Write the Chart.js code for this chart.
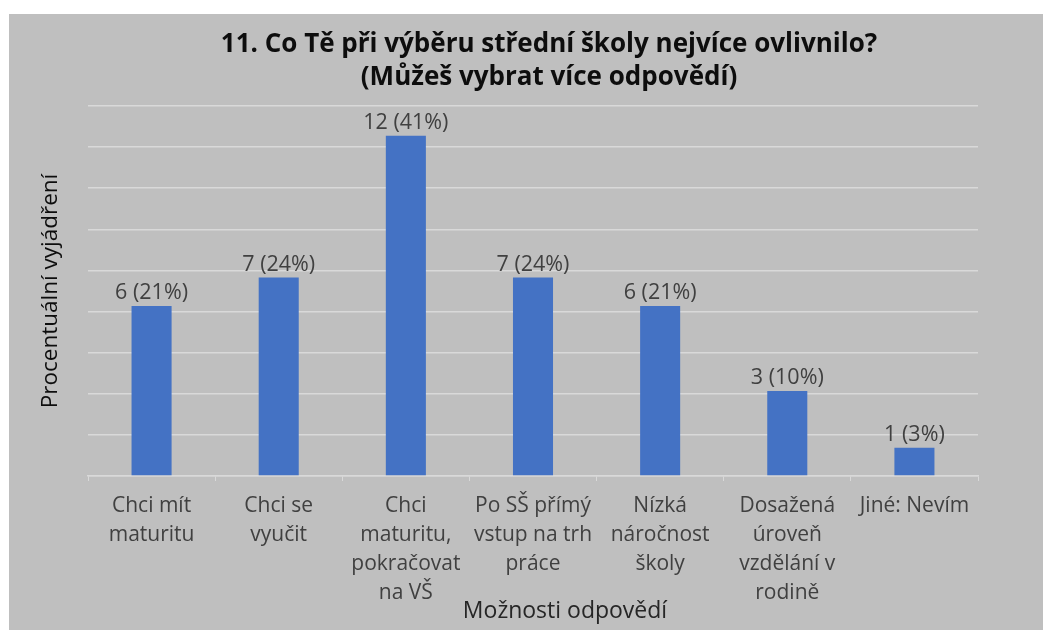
<!DOCTYPE html>
<html>
  <head>
    <meta charset="UTF-8" />
    <title>Co Tě při výběru střední školy nejvíce ovlivnilo?</title>
    <script src="https://cdn.jsdelivr.net/npm/chart.js"></script>
    <style>
      body {
        margin: 0;
        background: #fff;
        overflow: hidden;
        font-family: "Open Sans", sans-serif;
      }
      .panel {
        position: absolute;
        left: 9px;
        top: 14px;
        width: 1034px;
        height: 616px;
        background: #bfbfbf;
      }
    </style>
  </head>
  <body>
    <div class="panel">
      <canvas id="barChart"></canvas>
    </div>

    <script>
      const titleLines = [
        "11. Co Tě při výběru střední školy nejvíce ovlivnilo?",
        "(Můžeš vybrat více odpovědí)",
      ];
      const xTitle = "Možnosti odpovědí";
      const categories = [
        ["Chci mít", "maturitu"],
        ["Chci se", "vyučit"],
        ["Chci", "maturitu,", "pokračovat", "na VŠ"],
        ["Po SŠ přímý", "vstup na trh", "práce"],
        ["Nízká", "náročnost", "školy"],
        ["Dosažená", "úroveň", "vzdělání v", "rodině"],
        ["Jiné: Nevím"],
      ];
      const counts = [6, 7, 12, 7, 6, 3, 1];
      const percents = [20.69, 24.14, 41.38, 24.14, 20.69, 10.34, 3.45];
      const percentLabels = ["21%", "24%", "41%", "24%", "21%", "10%", "3%"];
      const yMax = 45;
      const yStep = 5;

      const textColor = "#404040";
      const gridColor = "#d9d9d9";

      // "6 (21%)" above each bar
      const barLabels = {
        id: "barLabels",
        afterDatasetsDraw(chart) {
          const ctx = chart.ctx;
          const meta = chart.getDatasetMeta(0);
          ctx.save();
          ctx.font = "21.5px 'Open Sans'";
          ctx.fillStyle = textColor;
          ctx.textAlign = "center";
          ctx.textBaseline = "alphabetic";
          meta.data.forEach((bar, i) => {
            ctx.fillText(
              counts[i] + " (" + percentLabels[i] + ")",
              bar.x,
              bar.y - 7
            );
          });
          ctx.restore();
        },
      };

      // Excel puts the chart title and the x title a bit right of centre,
      // so they are drawn here instead of by the title plugin
      const titles = {
        id: "titles",
        afterDraw(chart) {
          const ctx = chart.ctx;
          ctx.save();
          ctx.textAlign = "center";
          ctx.textBaseline = "alphabetic";
          ctx.fillStyle = "#0d0d0d";
          ctx.font = "bold 26px 'Open Sans'";
          ctx.fillText(titleLines[0], 540, 38);
          ctx.fillText(titleLines[1], 540, 71);
          ctx.fillStyle = "#262626";
          ctx.font = "23px 'Open Sans'";
          ctx.fillText(xTitle, 556, 604);
          ctx.restore();
        },
      };

      new Chart(document.getElementById("barChart"), {
        type: "bar",
        data: {
          labels: categories,
          datasets: [
            {
              label: "Procentuální vyjádření",
              data: percents,
              backgroundColor: "#4472c4",
              barPercentage: 0.315,
              categoryPercentage: 1,
            },
          ],
        },
        options: {
          responsive: true,
          maintainAspectRatio: false,
          animation: false,
          layout: { padding: { left: 0, right: 65, top: 92, bottom: 0 } },
          plugins: {
            legend: { display: false },
            tooltip: { enabled: false },
            title: { display: false },
          },
          scales: {
            x: {
              grid: {
                drawOnChartArea: false,
                drawTicks: true,
                tickLength: 5,
                color: gridColor,
              },
              border: { color: gridColor, width: 1.5 },
              ticks: {
                color: textColor,
                autoSkip: false,
                maxRotation: 0,
                minRotation: 0,
                padding: 11,
                font: { family: "Open Sans", size: 21, lineHeight: 1.38 },
              },
              afterFit(scale) {
                scale.height = 154;
              },
            },
            y: {
              min: 0,
              max: yMax,
              ticks: { display: false, stepSize: yStep },
              grid: { color: gridColor, lineWidth: 1.5, drawTicks: false },
              border: { display: false },
              title: {
                display: true,
                text: "Procentuální vyjádření",
                color: "#0d0d0d",
                font: { family: "Open Sans", size: 22.5 },
                padding: 28,
              },
              afterFit(scale) {
                scale.width = 79;
              },
            },
          },
        },
        plugins: [barLabels, titles],
      });
    </script>
  </body>
</html>
